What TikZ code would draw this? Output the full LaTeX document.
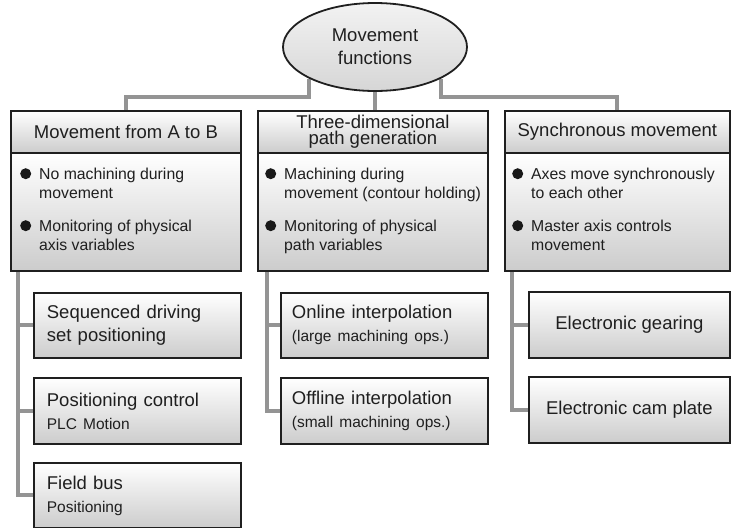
\documentclass[tikz,border=0pt]{standalone}
\usepackage{fontspec}
\setmainfont{Liberation Sans}
\usetikzlibrary{shapes.geometric,calc,backgrounds}
\newcommand\bul{\makebox[19pt][l]{\tikz[baseline=0pt]\fill[black!90] (5.5pt,6pt) circle (5.5pt);}}
\newcommand\ind{\hspace*{19pt}}
\begin{document}
\begin{tikzpicture}[x=1pt,y=-1pt,
  conn/.style={draw=black!42, line width=4pt},
  bx/.style={draw=black!88, line width=1.8pt, top color=white, bottom color=black!20, anchor=north west, inner sep=0pt},
  big/.style={font=\fontsize{18.5}{23}\selectfont, text=black!88},
  sml/.style={font=\fontsize{15.8}{18.5}\selectfont, text=black!88},
  btext/.style={sml, anchor=north west, inner sep=0pt, align=left}]
\useasboundingbox (0,0) rectangle (732,528);

% root
\node[ellipse, draw=black!88, line width=1.8pt, top color=black!5, bottom color=black!16,
      minimum width=184pt, minimum height=88pt, inner sep=0pt, align=center, big] (e) at (375,47) {Movement\\functions};

% top boxes
\node[bx, minimum width=230pt, minimum height=42pt, big] (h1) at (10,110) {Movement from A to B};
\node[bx, minimum width=230pt, minimum height=118pt] (b1) at (10,152) {};
\node[bx, minimum width=230pt, minimum height=42pt, font=\fontsize{18.5}{15.5}\selectfont, text=black!88, align=center] (h2) at (257,110) {Three-dimensional\\path generation};
\node[bx, minimum width=230pt, minimum height=118pt] (b2) at (257,152) {};
\node[bx, minimum width=225pt, minimum height=42pt, big] (h3) at (504,110) {Synchronous movement};
\node[bx, minimum width=225pt, minimum height=118pt] (b3) at (504,152) {};

\node[btext] (t1) at ($(b1.north west)+(10,16)$) {\bul No machining during\\ \ind movement\\[15pt] \bul Monitoring of physical\\ \ind axis variables};
\node[btext] (t2) at ($(b2.north west)+(8,16)$) {\bul Machining during\\ \ind movement (contour holding)\\[15pt] \bul Monitoring of physical\\ \ind path variables};
\node[btext] (t3) at ($(b3.north west)+(8,16)$) {\bul Axes move synchronously\\ \ind to each other\\[15pt] \bul Master axis controls\\ \ind movement};

% sub boxes column 1
\node[bx, minimum width=207pt, minimum height=65pt, text width=181pt, align=left, big] (s11) at (33,292) {Sequenced driving\\set positioning};
\node[bx, minimum width=207pt, minimum height=66pt, text width=181pt, align=left, big] (s12) at (33,377) {Positioning control\\{\fontsize{15.5}{23}\selectfont PLC Motion}};
\node[bx, minimum width=207pt, minimum height=65pt, text width=181pt, align=left, big] (s13) at (33,462) {Field bus\\{\fontsize{15.5}{25}\selectfont Positioning}};

% sub boxes column 2
\node[bx, minimum width=207pt, minimum height=65pt, text width=185pt, align=left, big] (s21) at (280,292) {Online interpolation\\{\fontsize{15.5}{23}\selectfont (large machining ops.)}};
\node[bx, minimum width=207pt, minimum height=66pt, text width=185pt, align=left, big] (s22) at (280,377) {Offline interpolation\\{\fontsize{15.5}{23}\selectfont (small machining ops.)}};

% sub boxes column 3
\node[bx, minimum width=201pt, minimum height=66pt, align=center, big] (s31) at (528,291) {Electronic gearing};
\node[bx, minimum width=201pt, minimum height=66pt, align=center, big] (s32) at (528,376) {Electronic cam plate};

% connectors
\coordinate (lv) at (0,97);
\coordinate (k1) at (18,0);
\coordinate (k2) at (267,0);
\coordinate (k3) at (512,0);
\begin{scope}[on background layer]
\draw[conn] (e.south west) -- (e.south west |- lv) -| (h1.north);
\draw[conn] (e.south east) -- (e.south east |- lv) -| (h3.north);
\draw[conn] (e.south) -- (e.south |- h2.north);
\draw[conn] (k1 |- b1.south) |- (s13.west);
\draw[conn] (k1 |- s11.west) -- (s11.west);
\draw[conn] (k1 |- s12.west) -- (s12.west);
\draw[conn] (k2 |- b2.south) |- (s22.west);
\draw[conn] (k2 |- s21.west) -- (s21.west);
\draw[conn] (k3 |- b3.south) |- (s32.west);
\draw[conn] (k3 |- s31.west) -- (s31.west);
\end{scope}
\end{tikzpicture}
\end{document}
